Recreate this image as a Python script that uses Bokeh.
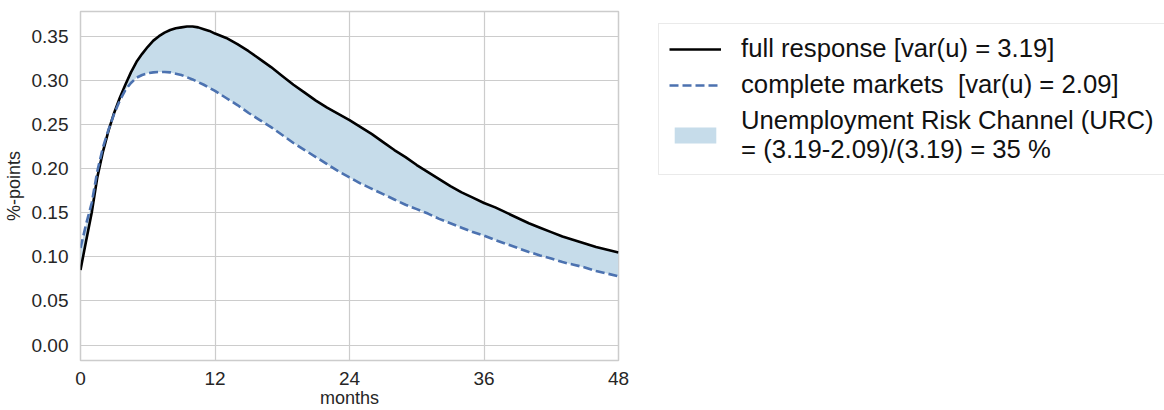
from bokeh.plotting import figure
from bokeh.layouts import row
from bokeh.models import ColumnDataSource, Legend, LegendItem, FixedTicker, NumeralTickFormatter, Range1d
from bokeh.embed import file_html
from bokeh.resources import INLINE

months = [0, 0.5, 1, 1.5, 2, 2.5, 3, 3.5, 4, 4.5, 5, 5.5, 6, 6.5, 7, 7.5, 8, 8.5, 9, 9.5,
          10, 10.5, 11, 11.5, 12] + list(range(13, 49))
full_response = [0.085, 0.118, 0.150, 0.190, 0.219, 0.243, 0.263, 0.280, 0.295, 0.309,
                 0.321, 0.330, 0.338, 0.345, 0.350, 0.354, 0.357, 0.359, 0.360, 0.361,
                 0.361, 0.360, 0.358, 0.356, 0.353,
                 0.348, 0.341, 0.333, 0.324, 0.315, 0.305, 0.295,
                 0.286, 0.277, 0.269, 0.262, 0.255, 0.247, 0.239, 0.230, 0.221, 0.213,
                 0.204, 0.196, 0.188, 0.180, 0.173, 0.167, 0.161, 0.156, 0.150, 0.144,
                 0.138, 0.133, 0.128, 0.123, 0.119, 0.115, 0.111, 0.108, 0.105]
complete_markets = [0.110, 0.137, 0.161, 0.197, 0.224, 0.244, 0.262, 0.277, 0.289, 0.297,
                    0.303, 0.306, 0.308, 0.309, 0.3095, 0.3095, 0.309, 0.3075, 0.306, 0.3035,
                    0.301, 0.298, 0.295, 0.2915, 0.288,
                    0.280, 0.272, 0.263, 0.255, 0.247, 0.238, 0.229,
                    0.221, 0.213, 0.205, 0.197, 0.190, 0.183, 0.177, 0.171, 0.165, 0.159,
                    0.154, 0.149, 0.143, 0.138, 0.133, 0.128, 0.124, 0.119, 0.1145, 0.110,
                    0.1055, 0.1015, 0.098, 0.094, 0.091, 0.088, 0.084, 0.081, 0.078]
x_ticks = [0, 12, 24, 36, 48]
y_ticks = [0.00, 0.05, 0.10, 0.15, 0.20, 0.25, 0.30, 0.35]
label_full = "full response [var(u) = 3.19]"
label_cm = "complete markets  [var(u) = 2.09]"
label_urc = "Unemployment Risk Channel (URC)\n= (3.19-2.09)/(3.19) = 35 %"

FONT = "Liberation Sans"
TXT = "#262626"
GRID = "#cccccc"
BLACK_STYLE = dict(line_color="black", line_width=2.6, line_join="round")
BLUE_STYLE = dict(line_color="#4c72b0", line_width=2.6, line_dash="9 4", line_join="round")
FILL_STYLE = dict(fill_color="#c6dcea")

src = ColumnDataSource(dict(months=months, full=full_response, cm=complete_markets))

# ---- main chart ----
p = figure(width=640, height=410, output_backend="svg", toolbar_location=None,
           x_range=Range1d(0, 48), y_range=Range1d(-0.0175, 0.378),
           min_border_left=78, min_border_right=22, min_border_top=11, min_border_bottom=49,
           background_fill_color="white", border_fill_color="white")

p.varea(x="months", y1="cm", y2="full", source=src, **FILL_STYLE)
p.line(x="months", y="full", source=src, **BLACK_STYLE)
p.line(x="months", y="cm", source=src, **BLUE_STYLE)

p.outline_line_color = GRID
p.outline_line_width = 1.5
p.xgrid.grid_line_color = GRID
p.ygrid.grid_line_color = GRID
p.xgrid.grid_line_width = 1.2
p.ygrid.grid_line_width = 1.2
p.xaxis.ticker = FixedTicker(ticks=x_ticks)
p.yaxis.ticker = FixedTicker(ticks=y_ticks)
p.yaxis.formatter = NumeralTickFormatter(format="0.00")
for ax in (p.xaxis[0], p.yaxis[0]):
    ax.axis_line_color = None
    ax.major_tick_line_color = None
    ax.minor_tick_line_color = None
    ax.major_label_text_font = FONT
    ax.major_label_text_font_size = "19px"
    ax.major_label_text_color = TXT
    ax.axis_label_text_font = FONT
    ax.axis_label_text_font_size = "18px"
    ax.axis_label_text_font_style = "normal"
    ax.axis_label_text_color = TXT
p.xaxis.axis_label = "months"
p.yaxis.axis_label = "%-points"
p.xaxis.major_label_standoff = 5
p.yaxis.major_label_standoff = 6
p.xaxis.axis_label_standoff = 0
p.yaxis.axis_label_standoff = 5

# ---- legend panel (outside the axes, as in the reference) ----
# Same renderers/data, but the view range keeps the glyphs themselves out of sight;
# only the legend is visible in this panel.
lg = figure(width=524, height=410, output_backend="svg", toolbar_location=None,
            x_range=Range1d(1000, 1001), y_range=Range1d(1000, 1001),
            x_axis_location=None, y_axis_location=None,
            min_border_left=0, min_border_right=0, min_border_top=0, min_border_bottom=0,
            background_fill_color="white", border_fill_color="white")
lg.outline_line_color = None
lg.grid.visible = False
g_fill = lg.varea(x="months", y1="cm", y2="full", source=src, **FILL_STYLE)
g_full = lg.line(x="months", y="full", source=src, **BLACK_STYLE)
g_cm = lg.line(x="months", y="cm", source=src, **BLUE_STYLE)

legend = Legend(items=[LegendItem(label=label_full, renderers=[g_full]),
                       LegendItem(label=label_cm, renderers=[g_cm]),
                       LegendItem(label=label_urc, renderers=[g_fill])],
                location=(18, 185), margin=0)
legend.label_text_font = FONT
legend.label_text_font_size = "25.7px"
legend.label_text_line_height = 0.9
legend.label_text_color = "#111111"
legend.glyph_width = 52
legend.glyph_height = 20
legend.label_standoff = 20
legend.padding = 10
legend.spacing = 7
legend.border_line_color = "#d5d5d5"
legend.border_line_width = 1.2
legend.background_fill_alpha = 1.0
lg.add_layout(legend, "center")

layout = row(p, lg, spacing=0)
open("out.html", "w").write(file_html(layout, INLINE))
